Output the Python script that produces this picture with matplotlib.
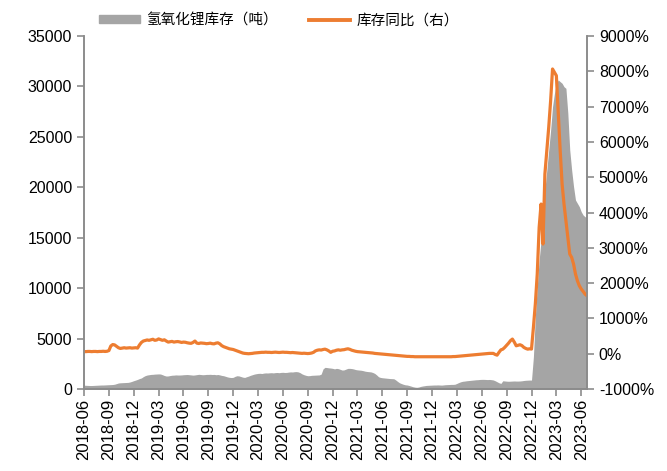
import numpy as np
import pandas as pd
from matplotlib import pyplot as plt
from matplotlib.patches import Patch
from matplotlib.lines import Line2D

plt.rcParams['font.family'] = ['Liberation Sans', 'Noto Sans CJK SC', 'DejaVu Sans']

# weekly lithium hydroxide inventory (t), one row per quarter
stock = [
    380, 370, 360, 350, 350, 360, 370, 380, 390, 400, 400, 410, 420,
    430, 440, 450, 480, 540, 600, 620, 630, 640, 650, 660, 700, 760,
    830, 890, 960, 1040, 1100, 1230, 1330, 1390, 1420, 1450, 1460, 1480, 1490,
    1500, 1490, 1420, 1340, 1290, 1300, 1340, 1370, 1380, 1400, 1390, 1390, 1400,
    1420, 1430, 1440, 1420, 1400, 1380, 1400, 1430, 1460, 1440, 1420, 1430, 1450,
    1450, 1460, 1440, 1450, 1420, 1440, 1400, 1350, 1320, 1260, 1200, 1160, 1140,
    1160, 1260, 1320, 1300, 1240, 1180, 1150, 1220, 1280, 1360, 1420, 1480, 1520,
    1550, 1560, 1540, 1580, 1600, 1590, 1610, 1620, 1600, 1630, 1640, 1620, 1650,
    1660, 1640, 1650, 1680, 1700, 1690, 1720, 1730, 1700, 1620, 1500, 1420, 1360,
    1320, 1330, 1360, 1370, 1380, 1390, 1400, 1480, 2000, 2150, 2130, 2100, 2080,
    2050, 2000, 2050, 2020, 1950, 1880, 1900, 1980, 2050, 2050, 2030, 1990, 1930,
    1900, 1880, 1860, 1820, 1770, 1740, 1720, 1700, 1640, 1550, 1400, 1220, 1150,
    1120, 1100, 1080, 1060, 1040, 1030, 1020, 900, 750, 620, 540, 470, 420,
    400, 350, 290, 230, 190, 170, 200, 260, 300, 330, 360, 370, 380,
    390, 400, 400, 410, 400, 390, 410, 430, 440, 450, 460, 460, 480,
    560, 650, 720, 770, 790, 820, 840, 860, 880, 900, 920, 930, 950,
    960, 960, 950, 940, 950, 930, 900, 820, 720, 620, 560, 820, 800,
    780, 770, 780, 790, 800, 790, 790, 800, 820, 850, 870, 880, 890,
    890, 3200, 7170, 10140, 12790, 14770, 17420, 19730, 21710, 23700, 25680, 27990, 29320,
    30310, 30640, 30470, 30310, 29970, 29810, 27340, 23700, 21710, 20060, 18740, 18410, 18080,
    17580, 17250, 17080, 17000,
]

# year-on-year change of inventory (%)
yoy = [
    60, 60, 65, 65, 60, 65, 65, 60, 65, 65, 70, 65, 70,
    90, 220, 260, 250, 210, 170, 150, 160, 170, 160, 165, 170, 160,
    165, 170, 160, 250, 320, 360, 375, 390, 380, 395, 410, 380, 390,
    420, 400, 380, 395, 360, 330, 340, 350, 330, 340, 345, 335, 320,
    330, 325, 310, 300, 295, 320, 360, 300, 290, 305, 300, 295, 285,
    290, 300, 285, 280, 300, 310, 280, 230, 200, 180, 160, 140, 130,
    120, 100, 80, 60, 40, 20, 10, 5, 0, 5, 10, 20, 25,
    30, 35, 40, 40, 45, 40, 40, 35, 40, 45, 40, 35, 40,
    45, 40, 40, 35, 30, 35, 30, 25, 20, 15, 10, 15, 10,
    5, 10, 20, 40, 80, 100, 110, 105, 120, 130, 110, 80, 40,
    70, 80, 100, 110, 100, 110, 115, 130, 140, 125, 100, 85, 70,
    60, 55, 50, 45, 40, 35, 30, 25, 20, 10, 5, 0, -5,
    -10, -15, -20, -25, -30, -35, -40, -45, -50, -55, -60, -65, -70,
    -75, -75, -80, -80, -85, -85, -85, -85, -85, -85, -85, -85, -85,
    -85, -85, -85, -85, -85, -85, -85, -85, -85, -85, -85, -80, -80,
    -75, -70, -65, -60, -55, -50, -45, -40, -35, -30, -25, -20, -15,
    -10, -5, 0, 5, 10, 10, 10, -20, -40, 40, 110, 130, 180,
    240, 300, 370, 415, 330, 225, 240, 255, 230, 180, 150, 130, 140,
    133, 745, 1408, 2258, 3578, 4240, 3107, 5090, 5750, 6410, 7167, 8065, 7970,
    7876, 6790, 5750, 4808, 4240, 3768, 3295, 2824, 2728, 2540, 2258, 2068, 1926,
    1833, 1765, 1690, 1643,
]

dates = pd.date_range('2018-06-08', periods=len(stock), freq='W-FRI')
labels = [d.strftime('%Y-%m') for d in dates[::13]]

gray = '#A5A5A5'
orange = '#ED7D31'
axis_c = '#8C8C8C'

fig = plt.figure(figsize=(6.67, 4.71), dpi=100)
ax = fig.add_axes([0.126, 0.174, 0.754, 0.7496])
ax2 = ax.twinx()

x = np.arange(len(stock))
ax.fill_between(x, 0, stock, color=gray, lw=0)
ax2.plot(x, yoy, color=orange, lw=2.3)

ax.set_xlim(0, len(stock) - 1)
ax.set_ylim(0, 35000)
ax.set_yticks(np.arange(0, 35001, 5000))
ax2.set_ylim(-1000, 9000)
ax2.set_yticks(np.arange(-1000, 9001, 1000))
ax2.set_yticklabels([f'{v}%' for v in range(-1000, 9001, 1000)])

ax.set_xticks(x[::13])
ax.set_xticklabels(labels, rotation=90)

for a in (ax, ax2):
    a.spines['top'].set_visible(False)
    for s in ('left', 'right', 'bottom'):
        a.spines[s].set_color(axis_c)
        a.spines[s].set_linewidth(1.2)
    a.tick_params(colors=axis_c, labelcolor='black', labelsize=11.5, length=5, width=1.2)
ax.tick_params(axis='x', labelsize=12, pad=2)

handles = [Patch(color=gray), Line2D([], [], color=orange, lw=2.8)]
fig.legend(handles, ['氢氧化锂库存（吨）', '库存同比（右）'], loc='upper center',
           bbox_to_anchor=(0.418, 1.0), ncol=2, frameon=False,
           handlelength=2.8, handleheight=0.5, columnspacing=2.2, handletextpad=0.4,
           prop={'family': ['Noto Sans CJK SC'], 'size': 10.5})

fig.savefig('out.png', dpi=100)
